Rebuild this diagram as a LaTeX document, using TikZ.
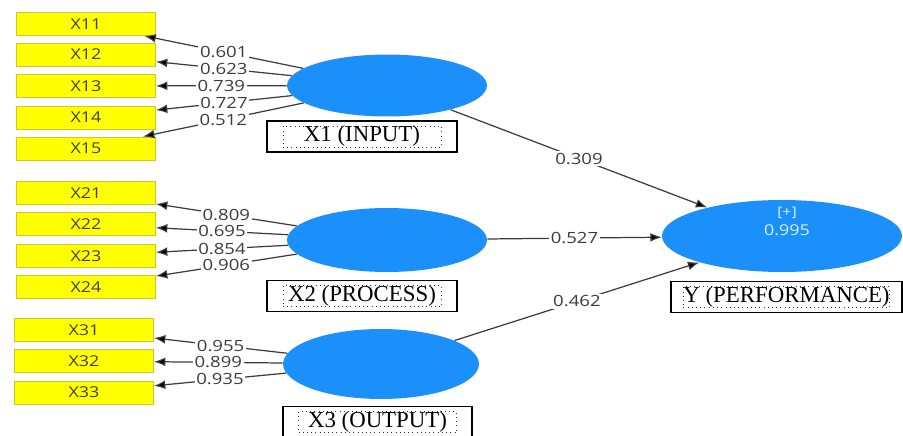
\documentclass[tikz,border=0pt]{standalone}
\usepackage{fontspec}
\setmainfont{Liberation Serif}
\newfontfamily\numfont[FakeStretch=1.2]{Open Sans}
\usepackage{tikz}
\usetikzlibrary{arrows.meta}
\usetikzlibrary{shapes.geometric}
\definecolor{latblue}{RGB}{28,144,250}
\definecolor{indyellow}{RGB}{255,255,0}
\definecolor{indborder}{RGB}{205,200,40}
\definecolor{pathgray}{RGB}{60,60,60}
\tikzset{indicator/.style={rectangle, fill=indyellow, draw=indborder, line width=0.5pt, minimum width=2.78cm, minimum height=0.46cm, inner sep=0pt, font=\numfont\fontsize{8.5}{9}\selectfont, text=black!75}}
\tikzset{latent/.style={ellipse, fill=latblue, draw=none, inner sep=0pt}}
\tikzset{loading/.style={draw=pathgray, line width=0.7pt, -{Latex[length=6.5pt,width=5pt,fill=black]}}}
\tikzset{coef/.style={fill=white, inner sep=1pt, text=pathgray, font=\numfont\fontsize{8.8}{10}\selectfont}}
\tikzset{namebox/.style={rectangle, draw=black, line width=0.7pt, fill=white, inner sep=0pt, minimum height=0.62cm}}
\tikzset{nametext/.style={rectangle, draw=black!80, dotted, inner sep=0pt, minimum height=0.42cm, font=\fontsize{13}{15}\selectfont}}

\begin{document}
\begin{tikzpicture}[x=0.02cm, y=-0.02cm]
    \useasboundingbox (0,0) rectangle (903,436);
    \clip (0,0) rectangle (903,436);

    \node[indicator] at (86,24) (x11){X11};
    \node[indicator] at (86,54.5) (x12){X12};
    \node[indicator] at (86,86) (x13){X13};
    \node[indicator] at (86,117.5) (x14){X14};
    \node[indicator] at (86,148.5) (x15){X15};

    \node[indicator] at (86,193) (x21){X21};
    \node[indicator] at (86,224) (x22){X22};
    \node[indicator] at (86,256) (x23){X23};
    \node[indicator] at (86,287) (x24){X24};

    \node[indicator] at (84,330) (x31){X31};
    \node[indicator] at (84,361) (x32){X32};
    \node[indicator] at (84,392.5) (x33){X33};

    \node[latent, minimum width=4cm, minimum height=1.24cm] at (387,85.5) (input){};
    \node[latent, minimum width=4cm, minimum height=1.28cm] at (387,240) (process){};
    \node[latent, minimum width=3.92cm, minimum height=1.4cm] at (381,364) (output){};
    \node[latent, minimum width=4.8cm, minimum height=1.44cm] at (782,236) (perf){};

    \node[text=white!85!latblue, font=\numfont\fontsize{7.5}{9}\selectfont] at (787,213) (plus){[+]};
    \node[text=white!85!latblue, font=\numfont\fontsize{8.5}{9}\selectfont] at (787,230) (rsq){0.995};

    \draw[loading] (input) -- node[coef]{0.601} (x11);
    \draw[loading] (input) -- node[coef]{0.623} (x12);
    \draw[loading] (input) -- node[coef]{0.739} (x13);
    \draw[loading] (input) -- node[coef]{0.727} (x14);
    \draw[loading] (input) -- node[coef]{0.512} (x15);

    \draw[loading] (process) -- node[coef]{0.809} (x21);
    \draw[loading] (process) -- node[coef]{0.695} (x22);
    \draw[loading] (process) -- node[coef]{0.854} (x23);
    \draw[loading] (process) -- node[coef]{0.906} (x24);

    \draw[loading] (output) -- node[coef]{0.955} (x31);
    \draw[loading] (output) -- node[coef]{0.899} (x32);
    \draw[loading] (output) -- node[coef]{0.935} (x33);

    \draw[loading] (input) -- node[coef]{0.309} (perf);
    \draw[loading] (process) -- node[coef]{0.527} (perf);
    \draw[loading] (output) -- node[coef]{0.462} (perf);

    \node[namebox, minimum width=3.8cm] at (362,136.5) (inputbox){};
    \node[nametext, minimum width=3.16cm] at (inputbox) (inputname){X1 (INPUT)};
    \node[namebox, minimum width=3.8cm] at (362,296) (processbox){};
    \node[nametext, minimum width=3.16cm] at (processbox) (processname){X2 (PROCESS)};
    \node[namebox, minimum width=3.78cm] at (377.5,422) (outputbox){};
    \node[nametext, minimum width=3.16cm] at (outputbox) (outputname){X3 (OUTPUT)};
    \node[namebox, minimum width=4.62cm] at (786.5,297) (perfbox){};
    \node[nametext, minimum width=3.96cm] at (perfbox) (perfname){Y (PERFORMANCE)};
\end{tikzpicture}
\end{document}
